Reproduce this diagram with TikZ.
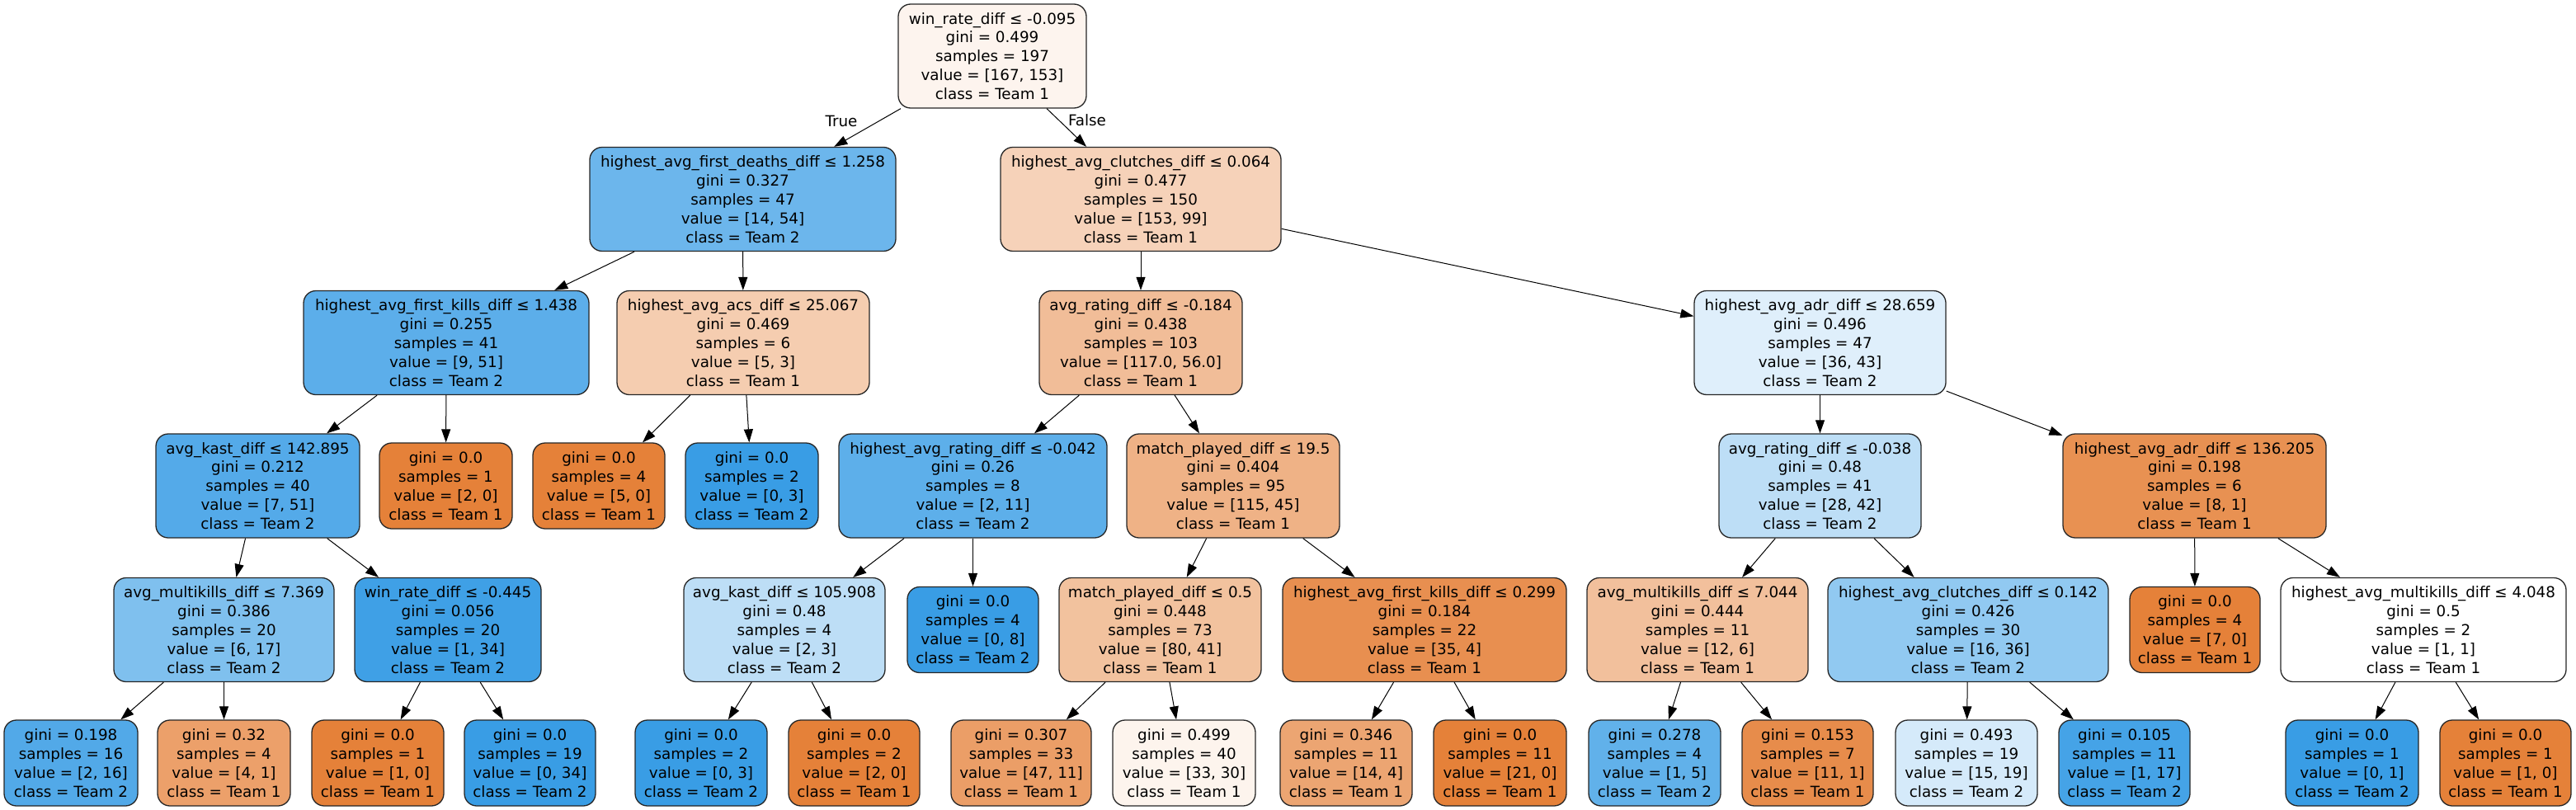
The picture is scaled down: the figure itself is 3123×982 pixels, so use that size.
\documentclass[tikz,border=0pt]{standalone}
\usepackage{fontspec}
\setmainfont{DejaVu Sans}
\usetikzlibrary{arrows.meta}
\definecolor{cRoot}{RGB}{253,244,238}
\definecolor{cA}{RGB}{108,182,236}
\definecolor{cB}{RGB}{246,210,185}
\definecolor{cC}{RGB}{92,174,234}
\definecolor{cD}{RGB}{245,205,176}
\definecolor{cE}{RGB}{241,189,152}
\definecolor{cF}{RGB}{223,239,251}
\definecolor{cG}{RGB}{84,170,233}
\definecolor{cOr}{RGB}{229,129,57}
\definecolor{cBl}{RGB}{57,157,229}
\definecolor{cK}{RGB}{93,175,234}
\definecolor{cL}{RGB}{239,178,134}
\definecolor{cM}{RGB}{189,222,246}
\definecolor{cN}{RGB}{232,145,82}
\definecolor{cO}{RGB}{127,192,238}
\definecolor{cP}{RGB}{63,160,230}
\definecolor{cS}{RGB}{242,194,158}
\definecolor{cT}{RGB}{232,143,80}
\definecolor{cU}{RGB}{242,192,156}
\definecolor{cV}{RGB}{145,201,241}
\definecolor{cLa}{RGB}{82,169,232}
\definecolor{cLb}{RGB}{236,160,106}
\definecolor{cLg}{RGB}{235,158,103}
\definecolor{cLh}{RGB}{253,244,237}
\definecolor{cLi}{RGB}{236,165,114}
\definecolor{cLk}{RGB}{97,177,234}
\definecolor{cLl}{RGB}{231,140,75}
\definecolor{cLm}{RGB}{213,234,250}
\definecolor{cLn}{RGB}{69,163,231}
\begin{document}
\begin{tikzpicture}[x=1pt,y=-1pt,
  tn/.style={draw=black!85, line width=1.3pt, rounded corners=15pt, align=center,
    inner xsep=3pt, inner ysep=2pt, font=\fontsize{18.3}{22.9}\selectfont,
    minimum height=126pt},
  lf/.style={tn, minimum height=104pt},
  lbl/.style={font=\fontsize{18.3}{22.9}\selectfont, inner sep=0pt},
  arr/.style={-{Triangle[length=16pt,width=11pt]}, line width=1pt}]
\useasboundingbox (0,0) rectangle (3123,982);
% level 0
\node[tn, fill=cRoot, minimum width=228pt] (root) at (1203,68) {win\_rate\_diff ≤ -0.095\\gini = 0.499\\samples = 197\\value = [167, 153]\\class = Team 1};
% level 1
\node[tn, fill=cA, minimum width=371pt] (A) at (900.5,241.5) {highest\_avg\_first\_deaths\_diff ≤ 1.258\\gini = 0.327\\samples = 47\\value = [14, 54]\\class = Team 2};
\node[tn, fill=cB, minimum width=340pt] (B) at (1383,241.5) {highest\_avg\_clutches\_diff ≤ 0.064\\gini = 0.477\\samples = 150\\value = [153, 99]\\class = Team 1};
% level 2
\node[tn, fill=cC, minimum width=346pt] (C) at (541,415.5) {highest\_avg\_first\_kills\_diff ≤ 1.438\\gini = 0.255\\samples = 41\\value = [9, 51]\\class = Team 2};
\node[tn, fill=cD, minimum width=306pt] (D) at (901,415.5) {highest\_avg\_acs\_diff ≤ 25.067\\gini = 0.469\\samples = 6\\value = [5, 3]\\class = Team 1};
\node[tn, fill=cE, minimum width=246pt] (E) at (1383,415.5) {avg\_rating\_diff ≤ -0.184\\gini = 0.438\\samples = 103\\value = [117.0, 56.0]\\class = Team 1};
\node[tn, fill=cF, minimum width=305pt] (F) at (2206.5,415.5) {highest\_avg\_adr\_diff ≤ 28.659\\gini = 0.496\\samples = 47\\value = [36, 43]\\class = Team 2};
% level 3
\node[tn, fill=cG, minimum width=247pt] (G) at (312.5,589) {avg\_kast\_diff ≤ 142.895\\gini = 0.212\\samples = 40\\value = [7, 51]\\class = Team 2};
\node[lf, fill=cOr, minimum width=161pt] (H) at (540.5,589) {gini = 0.0\\samples = 1\\value = [2, 0]\\class = Team 1};
\node[lf, fill=cOr, minimum width=160pt] (I) at (726,589) {gini = 0.0\\samples = 4\\value = [5, 0]\\class = Team 1};
\node[lf, fill=cBl, minimum width=161pt] (J) at (911.5,589) {gini = 0.0\\samples = 2\\value = [0, 3]\\class = Team 2};
\node[tn, fill=cK, minimum width=325pt] (K) at (1179.5,589) {highest\_avg\_rating\_diff ≤ -0.042\\gini = 0.26\\samples = 8\\value = [2, 11]\\class = Team 2};
\node[tn, fill=cL, minimum width=258pt] (L) at (1495,589) {match\_played\_diff ≤ 19.5\\gini = 0.404\\samples = 95\\value = [115, 45]\\class = Team 1};
\node[tn, fill=cM, minimum width=245pt] (M) at (2206.5,589) {avg\_rating\_diff ≤ -0.038\\gini = 0.48\\samples = 41\\value = [28, 42]\\class = Team 2};
\node[tn, fill=cN, minimum width=319pt] (N) at (2660.5,589) {highest\_avg\_adr\_diff ≤ 136.205\\gini = 0.198\\samples = 6\\value = [8, 1]\\class = Team 1};
% level 4
\node[tn, fill=cO, minimum width=267pt] (O) at (271.5,763.5) {avg\_multikills\_diff ≤ 7.369\\gini = 0.386\\samples = 20\\value = [6, 17]\\class = Team 2};
\node[tn, fill=cP, minimum width=226pt] (P) at (543,763.5) {win\_rate\_diff ≤ -0.445\\gini = 0.056\\samples = 20\\value = [1, 34]\\class = Team 2};
\node[tn, fill=cM, minimum width=244pt] (Q) at (951,763.5) {avg\_kast\_diff ≤ 105.908\\gini = 0.48\\samples = 4\\value = [2, 3]\\class = Team 2};
\node[lf, fill=cBl, minimum width=159pt] (R) at (1179.5,763.5) {gini = 0.0\\samples = 4\\value = [0, 8]\\class = Team 2};
\node[tn, fill=cS, minimum width=245pt] (S) at (1406.5,763.5) {match\_played\_diff ≤ 0.5\\gini = 0.448\\samples = 73\\value = [80, 41]\\class = Team 1};
\node[tn, fill=cT, minimum width=344pt] (T) at (1727,763.5) {highest\_avg\_first\_kills\_diff ≤ 0.299\\gini = 0.184\\samples = 22\\value = [35, 4]\\class = Team 1};
\node[tn, fill=cU, minimum width=268pt] (U) at (2058,763.5) {avg\_multikills\_diff ≤ 7.044\\gini = 0.444\\samples = 11\\value = [12, 6]\\class = Team 1};
\node[tn, fill=cV, minimum width=340pt] (V) at (2386,763.5) {highest\_avg\_clutches\_diff ≤ 0.142\\gini = 0.426\\samples = 30\\value = [16, 36]\\class = Team 2};
\node[lf, fill=cOr, minimum width=158pt] (W) at (2661,763.5) {gini = 0.0\\samples = 4\\value = [7, 0]\\class = Team 1};
\node[tn, fill=white, minimum width=346pt] (X) at (2938,763.5) {highest\_avg\_multikills\_diff ≤ 4.048\\gini = 0.5\\samples = 2\\value = [1, 1]\\class = Team 1};
% level 5
\node[lf, fill=cLa, minimum width=162pt] (l1) at (86,925) {gini = 0.198\\samples = 16\\value = [2, 16]\\class = Team 2};
\node[lf, fill=cLb, minimum width=161pt] (l2) at (271.5,925) {gini = 0.32\\samples = 4\\value = [4, 1]\\class = Team 1};
\node[lf, fill=cOr, minimum width=160pt] (l3) at (458,925) {gini = 0.0\\samples = 1\\value = [1, 0]\\class = Team 1};
\node[lf, fill=cBl, minimum width=159pt] (l4) at (642.5,925) {gini = 0.0\\samples = 19\\value = [0, 34]\\class = Team 2};
\node[lf, fill=cBl, minimum width=160pt] (l5) at (850,925) {gini = 0.0\\samples = 2\\value = [0, 3]\\class = Team 2};
\node[lf, fill=cOr, minimum width=159pt] (l6) at (1035.5,925) {gini = 0.0\\samples = 2\\value = [2, 0]\\class = Team 1};
\node[lf, fill=cLg, minimum width=170pt] (l7) at (1238,925) {gini = 0.307\\samples = 33\\value = [47, 11]\\class = Team 1};
\node[lf, fill=cLh, minimum width=173pt] (l8) at (1435.5,925) {gini = 0.499\\samples = 40\\value = [33, 30]\\class = Team 1};
\node[lf, fill=cLi, minimum width=160pt] (l9) at (1632,925) {gini = 0.346\\samples = 11\\value = [14, 4]\\class = Team 1};
\node[lf, fill=cOr, minimum width=161pt] (l10) at (1818.5,925) {gini = 0.0\\samples = 11\\value = [21, 0]\\class = Team 1};
\node[lf, fill=cLk, minimum width=160pt] (l11) at (2006,925) {gini = 0.278\\samples = 4\\value = [1, 5]\\class = Team 2};
\node[lf, fill=cLl, minimum width=159pt] (l12) at (2191.5,925) {gini = 0.153\\samples = 7\\value = [11, 1]\\class = Team 1};
\node[lf, fill=cLm, minimum width=172pt] (l13) at (2384,925) {gini = 0.493\\samples = 19\\value = [15, 19]\\class = Team 2};
\node[lf, fill=cLn, minimum width=159pt] (l14) at (2575.5,925) {gini = 0.105\\samples = 11\\value = [1, 17]\\class = Team 2};
\node[lf, fill=cBl, minimum width=161pt] (l15) at (2851.5,925) {gini = 0.0\\samples = 1\\value = [0, 1]\\class = Team 2};
\node[lf, fill=cOr, minimum width=159pt] (l16) at (3037.5,925) {gini = 0.0\\samples = 1\\value = [1, 0]\\class = Team 1};
% edge labels
\node[lbl] (tl) at (1020,147) {True};
\node[lbl] (fl) at (1318,146) {False};
% edges
\foreach \p/\c in {root/A, root/B, A/C, A/D, C/G, C/H, D/I, D/J, G/O, G/P, O/l1, O/l2, P/l3, P/l4,
  B/E, B/F, E/K, E/L, K/Q, K/R, Q/l5, Q/l6, L/S, L/T, S/l7, S/l8, T/l9, T/l10,
  F/M, F/N, M/U, M/V, U/l11, U/l12, V/l13, V/l14, N/W, N/X, X/l15, X/l16}
  \draw[arr] (\p) -- (\c);
\end{tikzpicture}
\end{document}
